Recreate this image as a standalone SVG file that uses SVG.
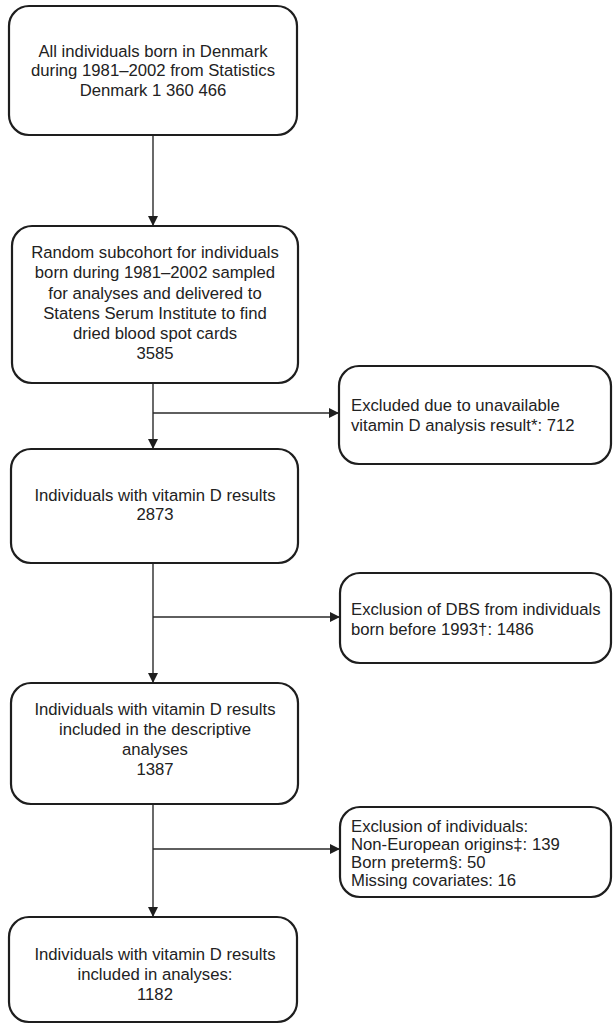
<svg xmlns="http://www.w3.org/2000/svg" width="613" height="1031" viewBox="0 0 613 1031">
<style>
.box{fill:#fff;stroke:#1e1e1e;stroke-width:2.2}
.t{font-family:"Liberation Sans",Arial,sans-serif;font-size:16.7px;fill:#222}
.c{text-anchor:middle}
.ln{stroke:#2a2a2a;stroke-width:1.4;fill:none}
</style>
<defs>
<marker id="ah" viewBox="0 0 10 10" refX="10" refY="5" markerWidth="10" markerHeight="11" markerUnits="userSpaceOnUse" orient="auto">
<path d="M0,0 L10,5 L0,10 Z" fill="#1e1e1e"/>
</marker>
</defs>
<rect width="613" height="1031" fill="#fff"/>
<g id="connectors">
<line class="ln" x1="153" y1="135" x2="153" y2="226" marker-end="url(#ah)"/>
<line class="ln" x1="153" y1="383" x2="153" y2="449" marker-end="url(#ah)"/>
<line class="ln" x1="153" y1="413" x2="339" y2="413" marker-end="url(#ah)"/>
<line class="ln" x1="153" y1="563" x2="153" y2="683" marker-end="url(#ah)"/>
<line class="ln" x1="153" y1="617" x2="340" y2="617" marker-end="url(#ah)"/>
<line class="ln" x1="153" y1="804" x2="153" y2="917" marker-end="url(#ah)"/>
<line class="ln" x1="153" y1="849" x2="340" y2="849" marker-end="url(#ah)"/>
</g>
<g id="n1">
<rect class="box" x="9" y="6" width="288" height="129" rx="20"/>
<text class="t c" x="153" y="57">All individuals born in Denmark</text>
<text class="t c" x="153" y="76">during 1981–2002 from Statistics</text>
<text class="t c" x="153" y="96">Denmark 1 360 466</text>
</g>
<g id="n2">
<rect class="box" x="12" y="226" width="286" height="157" rx="20"/>
<text class="t c" x="155" y="258">Random subcohort for individuals</text>
<text class="t c" x="155" y="278">born during 1981–2002 sampled</text>
<text class="t c" x="155" y="299">for analyses and delivered to</text>
<text class="t c" x="155" y="319">Statens Serum Institute to find</text>
<text class="t c" x="155" y="339">dried blood spot cards</text>
<text class="t c" x="155" y="359">3585</text>
</g>
<g id="n3">
<rect class="box" x="339" y="366" width="272" height="98" rx="20"/>
<text class="t" x="351" y="411">Excluded due to unavailable</text>
<text class="t" x="351" y="431">vitamin D analysis result*: 712</text>
</g>
<g id="n4">
<rect class="box" x="11" y="449" width="287" height="114" rx="20"/>
<text class="t c" x="155" y="501">Individuals with vitamin D results</text>
<text class="t c" x="155" y="520">2873</text>
</g>
<g id="n5">
<rect class="box" x="340" y="573" width="271" height="90" rx="20"/>
<text class="t" x="351" y="615">Exclusion of DBS from individuals</text>
<text class="t" x="351" y="635">born before 1993†: 1486</text>
</g>
<g id="n6">
<rect class="box" x="11" y="683" width="287" height="121" rx="20"/>
<text class="t c" x="155" y="715">Individuals with vitamin D results</text>
<text class="t c" x="155" y="735">included in the descriptive</text>
<text class="t c" x="155" y="755">analyses</text>
<text class="t c" x="155" y="775">1387</text>
</g>
<g id="n7">
<rect class="box" x="340" y="807" width="271" height="90" rx="20"/>
<text class="t" x="351" y="832">Exclusion of individuals:</text>
<text class="t" x="351" y="850">Non-European origins‡: 139</text>
<text class="t" x="351" y="868">Born preterm§: 50</text>
<text class="t" x="351" y="886">Missing covariates: 16</text>
</g>
<g id="n8">
<rect class="box" x="9" y="917" width="288" height="105" rx="20"/>
<text class="t c" x="155" y="960">Individuals with vitamin D results</text>
<text class="t c" x="155" y="980">included in analyses:</text>
<text class="t c" x="155" y="1000">1182</text>
</g>
</svg>
